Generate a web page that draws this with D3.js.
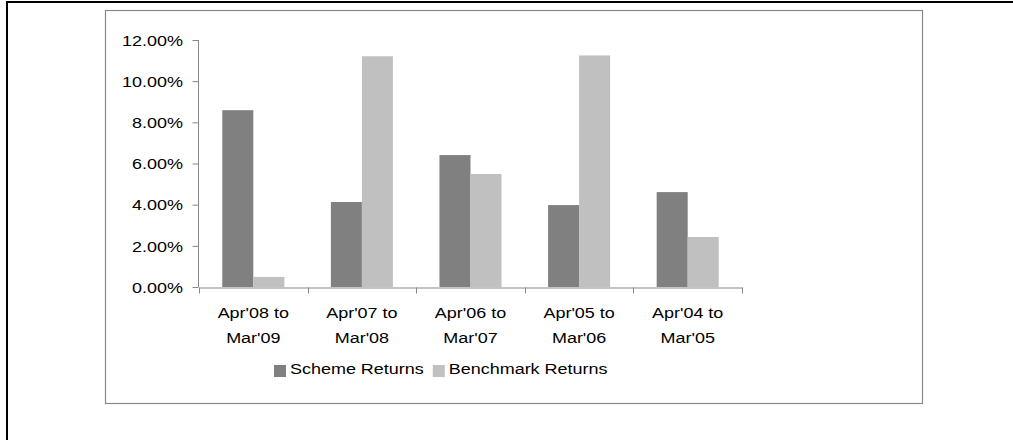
<!DOCTYPE html>
<html>
<head>
<meta charset="utf-8">
<script src="https://cdn.jsdelivr.net/npm/d3@7"></script>
<style>
  body { margin: 0; background: #fff; }
  svg text { font-family: "Liberation Sans", Arial, sans-serif; fill: #000; }
</style>
</head>
<body>
<div id="chart"></div>
<script>
// data
var categories = ["Apr'08 to|Mar'09", "Apr'07 to|Mar'08", "Apr'06 to|Mar'07", "Apr'05 to|Mar'06", "Apr'04 to|Mar'05"];
var seriesNames = ["Scheme Returns", "Benchmark Returns"];
var schemeReturns = [8.59, 4.13, 6.41, 3.98, 4.61];
var benchmarkReturns = [0.49, 11.21, 5.49, 11.25, 2.43];
var yTicks = [0, 2, 4, 6, 8, 10, 12];
var colors = ["#808080", "#c0c0c0"];

var width = 1013, height = 440;
var fs = 15.5;
var stretch = 1.16; // text in the picture is a bit wide

var svg = d3.select("#chart").append("svg")
  .attr("width", width)
  .attr("height", height);

// outer black frame (top + left only)
svg.append("line").attr("x1", 6).attr("y1", 2).attr("x2", width).attr("y2", 2)
  .attr("stroke", "#000").attr("stroke-width", 2);
svg.append("line").attr("x1", 7).attr("y1", 1).attr("x2", 7).attr("y2", height)
  .attr("stroke", "#000").attr("stroke-width", 2);

// chart area frame
svg.append("rect")
  .attr("x", 105.5).attr("y", 10.5)
  .attr("width", 817).attr("height", 393)
  .attr("fill", "none").attr("stroke", "#888").attr("stroke-width", 1.2);

var x = d3.scaleBand().domain(categories).range([199, 742]).paddingInner(0).paddingOuter(0);
var x1 = d3.scaleBand().domain(seriesNames).range([0, x.bandwidth()]).paddingInner(0).paddingOuter(0.75);
var y = d3.scaleLinear().domain([0, 12]).range([287, 40]);

var rows = categories.map(function(c, i) {
  return { cat: c, values: [schemeReturns[i], benchmarkReturns[i]] };
});

// bars
var groups = svg.selectAll("g.grp")
  .data(rows)
  .enter().append("g")
  .attr("class", "grp")
  .attr("transform", function(d) { return "translate(" + x(d.cat) + ",0)"; });

groups.selectAll("rect")
  .data(function(d) { return d.values.map(function(v, j) { return { name: seriesNames[j], v: v, j: j }; }); })
  .enter().append("rect")
  .attr("x", function(d) { return x1(d.name); })
  .attr("width", x1.bandwidth())
  .attr("y", function(d) { return y(d.v); })
  .attr("height", function(d) { return y(0) - y(d.v); })
  .attr("fill", function(d) { return colors[d.j]; });

// y axis
var yAxis = svg.append("g")
  .attr("transform", "translate(198.5,0)")
  .call(d3.axisLeft(y).tickValues(yTicks).tickSize(6).tickSizeOuter(0)
    .tickFormat(function(d) { return d3.format(".2f")(d) + "%"; }));
yAxis.select(".domain").attr("stroke", "#888").attr("d", "M0," + y(12) + "V" + y(0));
yAxis.selectAll(".tick line").attr("stroke", "#888");
yAxis.selectAll(".tick text")
  .attr("font-size", fs)
  .attr("x", -15.5 / stretch)
  .attr("dy", "0.34em")
  .attr("transform", "scale(" + stretch + ",1)");

// x axis
var xAxis = svg.append("g")
  .attr("transform", "translate(0," + (y(0) + 0.5) + ")")
  .call(d3.axisBottom(x).tickSize(0).tickSizeOuter(0).tickFormat(""));
xAxis.select(".domain").attr("stroke", "#888");
xAxis.selectAll(".tick line").remove();

// boundary ticks between categories
var bounds = categories.map(function(c) { return x(c); }).concat([x(categories[categories.length - 1]) + x.bandwidth()]);
xAxis.selectAll("line.bt")
  .data(bounds)
  .enter().append("line")
  .attr("class", "bt")
  .attr("x1", function(d) { return Math.round(d) + 0.5; })
  .attr("x2", function(d) { return Math.round(d) + 0.5; })
  .attr("y1", 0).attr("y2", 6)
  .attr("stroke", "#888");

// category labels (two lines)
var labels = xAxis.selectAll("text.cl")
  .data(categories)
  .enter().append("text")
  .attr("class", "cl")
  .attr("font-size", fs)
  .attr("text-anchor", "middle")
  .attr("transform", function(d) { return "translate(" + (x(d) + x.bandwidth() / 2) + ",0) scale(" + stretch + ",1)"; });
labels.each(function(d) {
  var parts = d.split("|");
  var t = d3.select(this);
  t.append("tspan").attr("x", 0).attr("y", 31).text(parts[0]);
  t.append("tspan").attr("x", 0).attr("y", 56).text(parts[1]);
});

// legend
var legend = svg.append("g").attr("transform", "translate(274,365)");
var lx = 0;
seriesNames.forEach(function(name, i) {
  legend.append("rect").attr("x", lx).attr("y", 0).attr("width", 12).attr("height", 12).attr("fill", colors[i]);
  var t = legend.append("text")
    .attr("font-size", fs)
    .attr("transform", "translate(" + (lx + 16) + ",9) scale(" + stretch + ",1)")
    .text(name);
  lx += 16 + t.node().getComputedTextLength() * stretch + 9;
});
</script>
</body>
</html>
